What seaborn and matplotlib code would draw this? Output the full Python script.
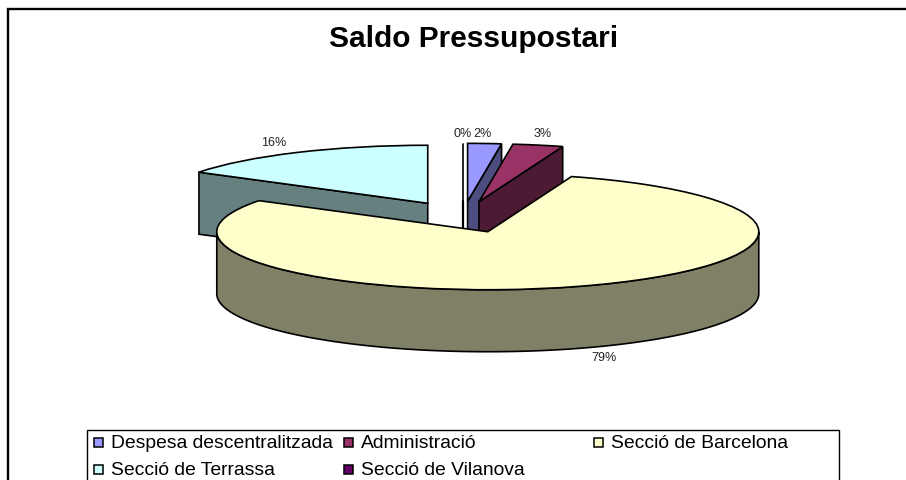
import numpy as np
import seaborn as sns
import matplotlib.pyplot as plt
from matplotlib.colors import to_rgb
from matplotlib.patches import Rectangle

# data, in chart order (clockwise from 12 o'clock)
categories = ['Despesa descentralitzada', 'Administració', 'Secció de Barcelona',
              'Secció de Terrassa', 'Secció de Vilanova']
percent = [2, 3, 79, 16, 0]
colours = ['#9999ff', '#993366', '#ffffcc', '#ccffff', '#660066']
title = 'Saldo Pressupostari'

# pie geometry in pixels of the 906x481 picture
W, H = 906, 481
CX, CY = 463, 218
RX, RY = 271, 58
DEPTH = 62 / RY
EXPLODE = 0.27

# where the percentage labels sit (px)
label_xy = [(482, 134), (543, 134), (604, 358), (274, 143), (463, 134)]

# legend cells (px): swatch left edge and text centre
legend_xy = [(94, 443), (344, 443), (594, 443), (94, 470), (344, 470)]


def fx(px):
    return px / W


def fy(py):
    return 1 - py / H


def arc_points(a1, a2, tip):
    """ Points along the rim between two clock angles (degrees), in pie units. """
    t = np.radians(np.linspace(a1, a2, 120))
    return tip[0] + np.sin(t), tip[1] + np.cos(t)


def draw_walls(ax, a1, a2, tip, colour, zorder):
    """ The visible sides of one slice: the cut faces and the front of the rim. """
    wall = dict(facecolor=colour, edgecolor='black', linewidth=1.2, zorder=zorder)

    for a, visible in ((a1, np.sin(np.radians(a1)) < -1e-6), (a2, np.sin(np.radians(a2)) > 1e-6)):
        if visible:
            ex = tip[0] + np.sin(np.radians(a))
            ey = tip[1] + np.cos(np.radians(a))
            ax.fill([tip[0], ex, ex, tip[0]], [tip[1], ey, ey - DEPTH, tip[1] - DEPTH], **wall)

    lo, hi = max(a1, 90), min(a2, 270)
    if lo < hi:
        x, y = arc_points(lo, hi, tip)
        ax.fill(np.r_[x, x[::-1]], np.r_[y, y[::-1] - DEPTH], **wall)


sns.set_theme(style='white', font='Liberation Sans')

fig = plt.figure(figsize=(W / 100, H / 100), dpi=100, facecolor='white')
ax = fig.add_axes([0, 0, 1, 1])

wedges, _ = ax.pie(percent, colors=colours, explode=[EXPLODE] * len(percent), startangle=90,
                   counterclock=False, wedgeprops=dict(edgecolor='black', linewidth=1.2))

ax.set_aspect('auto')
ax.set_xlim(-CX / RX, (W - CX) / RX)
ax.set_ylim((CY - H) / RY, CY / RY)
ax.axis('off')

# angles of each slice, clockwise from the top
ends = np.cumsum(percent) * 3.6
starts = ends - np.array(percent) * 3.6
mids = (starts + ends) / 2

# paint from the back of the pie to the front
order = np.argsort(-np.cos(np.radians(mids)), kind='stable')
for rank, i in enumerate(order):
    tip = (EXPLODE * np.sin(np.radians(mids[i])), EXPLODE * np.cos(np.radians(mids[i])))
    wall_colour = tuple(c * 0.5 for c in to_rgb(colours[i]))
    draw_walls(ax, starts[i], ends[i], tip, wall_colour, 3 * rank + 2)
    if percent[i] == 0:
        ax.plot([tip[0], tip[0]], [tip[1], tip[1] - DEPTH], color='black', lw=1.6, zorder=3 * rank + 2)
    wedges[i].set_zorder(3 * rank + 3)

# percentage labels
for value, (lx, ly) in zip(percent, label_xy):
    fig.text(fx(lx), fy(ly), f'{value}%', ha='center', va='center', fontsize=9, color='#222222')

fig.text(fx(474), fy(39), title, ha='center', va='center', fontsize=21.5, fontweight='bold', color='black')

# outer chart frame, cut off by the picture on the right and at the bottom
fig.add_artist(Rectangle((fx(8), fy(H + 20)), (W + 20 - 8) / W, (H + 20 - 10) / H, transform=fig.transFigure,
                         facecolor='none', edgecolor='black', linewidth=1.7))

# legend box, its lower edge falls outside the picture
fig.add_artist(Rectangle((fx(87), fy(H + 10)), (839 - 87) / W, (H + 10 - 431) / H, transform=fig.transFigure,
                         facecolor='white', edgecolor='black', linewidth=1))
for name, colour, (lx, ly) in zip(categories, colours, legend_xy):
    fig.add_artist(Rectangle((fx(lx), fy(ly + 5)), 9 / W, 9 / H, transform=fig.transFigure,
                             facecolor=colour, edgecolor='black', linewidth=1.1))
    fig.text(fx(lx + 17), fy(ly + 1), name, ha='left', va='center', fontsize=13.9, color='black')

plt.savefig('out.png', dpi=100)
